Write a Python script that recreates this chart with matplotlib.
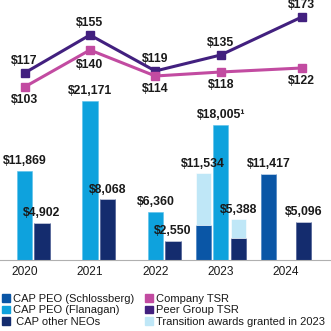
import numpy as np
import matplotlib
matplotlib.use('Agg')
import matplotlib.pyplot as plt
from matplotlib.patches import Patch

years = ['2020', '2021', '2022', '2023', '2024']

# CAP values ($000), NaN where the bar is absent
cap_schlossberg = [np.nan, np.nan, np.nan, 4654, 11417]
cap_flanagan = [11869, 21171, 6360, 18005, np.nan]
cap_other = [4902, 8068, 2550, 2965, 5096]
# transition awards stacked on top of 2023 bars
transition_peo = [0, 0, 0, 6880, 0]
transition_other = [0, 0, 0, 2423, 0]
# labels shown above bars
schloss_labels = ['', '', '', '$11,534', '$11,417']
flanagan_labels = ['$11,869', '$21,171', '$6,360', '$18,005\u00b9', '']
other_labels = ['$4,902', '$8,068', '$2,550', '$5,388', '$5,096']

company_tsr = [103, 140, 114, 118, 122]
peer_tsr = [117, 155, 119, 135, 173]
tsr_x = [0, 1, 2, 3, 4.24]

c_schloss = '#0a56a6'
c_flan = '#0ea2dd'
c_other = '#142c6e'
c_trans = '#bfe7f7'
c_company = '#c24ba1'
c_peer = '#42207f'

plt.rcParams['font.family'] = ['Liberation Sans', 'DejaVu Sans']

fig = plt.figure(figsize=(3.31, 3.31), dpi=100)
base = (331 - 260) / 331
ax = fig.add_axes([0, base, 1, 1 - base])
ax2 = ax.twinx()

x = np.arange(len(years))
off = 0.268
w = 0.235

ax.bar(x - off, cap_schlossberg, w, color=c_schloss, edgecolor='#3d7ac0', linewidth=0.4)
ax.bar(x - off, transition_peo, w, bottom=np.nan_to_num(cap_schlossberg), color=c_trans,
       edgecolor='white', linewidth=0.4)
ax.bar(x, cap_flanagan, w, color=c_flan, edgecolor='#5cc0ea', linewidth=0.4)
ax.bar(x + off, cap_other, w, color=c_other, edgecolor='#3a4e8a', linewidth=0.4)
ax.bar(x + off, transition_other, w, bottom=cap_other, color=c_trans,
       edgecolor='white', linewidth=0.4)

lab_kw = dict(ha='center', va='bottom', fontsize=8.8, fontweight='bold', color='#1a1a1a')
for i in range(len(years)):
    if schloss_labels[i]:
        top = np.nan_to_num(cap_schlossberg[i]) + transition_peo[i]
        ax.text(x[i] - off, top + 500, schloss_labels[i], **lab_kw)
    if flanagan_labels[i]:
        ax.text(x[i], cap_flanagan[i] + 500, flanagan_labels[i], **lab_kw)
    ax.text(x[i] + off, cap_other[i] + transition_other[i] + 500, other_labels[i], **lab_kw)

ax.set_xlim(-0.375, 4.686)
ax.set_ylim(0, 34574)
ax.set_xticks(x)
ax.set_xticklabels(years, fontsize=8.6, color='#1a1a1a')
ax.tick_params(axis='x', length=0, pad=4.5)
ax.set_yticks([])
for s in ['top', 'right', 'left']:
    ax.spines[s].set_visible(False)
ax.spines['bottom'].set_color('#b0b0b0')
ax.spines['bottom'].set_linewidth(0.8)

ax2.plot(tsr_x, peer_tsr, color=c_peer, lw=2.2, marker='s', ms=6)
ax2.plot(tsr_x, company_tsr, color=c_company, lw=2.2, marker='s', ms=6)
tkw = dict(ha='center', va='center', fontsize=8.8, fontweight='bold', color='#1a1a1a',
           textcoords='offset points')
for i in range(len(years)):
    ax2.annotate(f'${peer_tsr[i]}', (tsr_x[i], peer_tsr[i]), xytext=(0, 8.4), **tkw)
    dy = -11 if i == 1 else -9.2
    ax2.annotate(f'${company_tsr[i]}', (tsr_x[i], company_tsr[i]), xytext=(0, dy), **tkw)
ax2.set_ylim(-70, 190)
ax2.set_yticks([])
for s in ax2.spines.values():
    s.set_visible(False)

handles = [Patch(color=c_schloss), Patch(color=c_flan), Patch(color=c_other),
           Patch(color=c_company), Patch(color=c_peer), Patch(color=c_trans)]
labels = ['CAP PEO (Schlossberg)', 'CAP PEO (Flanagan)', ' CAP other NEOs',
          'Company TSR', 'Peer Group TSR', 'Transition awards granted in 2023']
fig.legend(handles, labels, ncol=2, loc='upper left', bbox_to_anchor=(0.0, 0.119),
           frameon=False, fontsize=8.0, handlelength=0.7, handleheight=0.7,
           handletextpad=0.3, columnspacing=0.95, labelspacing=0.15,
           borderaxespad=0, borderpad=0.2, labelcolor='#1a1a1a')

fig.savefig('out.png', dpi=100)
